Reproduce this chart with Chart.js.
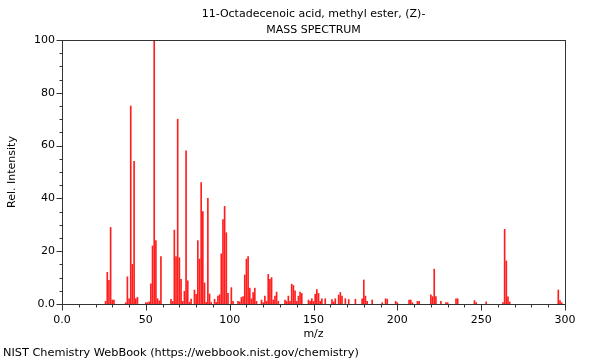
<!DOCTYPE html>
<html>
<head>
<meta charset="utf-8">
<script src="https://cdn.jsdelivr.net/npm/chart.js@4.4.1/dist/chart.umd.min.js"></script>
<style>
  html, body { margin: 0; padding: 0; background: #fff; }
  #wrap { width: 600px; height: 360px; position: relative; }
</style>
</head>
<body>
<div id="wrap"><canvas id="spectrum"></canvas></div>
<script>
// datos del espectro (m/z, intensidad relativa)
const mzValues = [
  26, 27, 28, 29, 30, 31, 38, 39, 40, 41, 42, 43, 44, 45,
  50, 51, 52, 53, 54, 55, 56, 57, 58, 59,
  65, 66, 67, 68, 69, 70, 71, 72, 73, 74, 75, 76, 77, 79,
  80, 81, 82, 83, 84, 85, 86, 87, 88, 89, 91, 92, 93, 94, 95, 96, 97, 98, 99,
  101, 102, 105, 106, 107, 108, 109, 110, 111, 112, 113, 114, 115, 116, 119,
  120, 121, 122, 123, 124, 125, 126, 127, 128, 129, 133, 134, 135, 136, 137, 138, 139,
  140, 141, 142, 143, 147, 148, 149, 150, 151, 152, 153, 154, 155, 157,
  161, 162, 163, 165, 166, 167, 169, 171, 175, 179, 180, 181, 182, 185,
  191, 193, 194, 199, 200, 207, 208, 209, 212, 213,
  220, 221, 222, 223, 226, 229, 230, 235, 236, 246, 247, 253,
  263, 264, 265, 266, 267, 296, 297, 298
];
const intensities = [
  1, 12, 9, 29, 1.5, 1.5, 0.5, 10.3, 2, 75, 15, 54, 2, 2.5,
  0.5, 0.5, 0.8, 7.6, 22, 100, 24, 2, 1.2, 18,
  1.8, 1, 28, 18, 70, 17.5, 9.3, 1, 4.8, 58, 8.8, 0.7, 1.9, 5.3,
  3.7, 24, 17, 46, 35, 8, 0.6, 40, 3.8, 0.6, 1.8, 0.6, 3, 3.5, 19, 32, 37, 27, 4,
  6.2, 1, 1, 0.8, 2.5, 2.8, 11, 17, 18, 6, 2, 4.3, 6, 1, 1.5,
  0.5, 3, 1, 11.2, 9.3, 10, 1.5, 3, 4.5, 1, 1.5, 1, 3, 1, 7.5, 7, 5,
  1, 3, 4.5, 4, 1.5, 1, 2, 1, 3.7, 5.5, 4, 1, 2, 2,
  1.7, 0.8, 2, 3.4, 4.4, 3, 2, 1.7, 1.8, 2, 9.1, 3, 1, 1.5,
  0.5, 2, 1.8, 1, 0.5, 1.5, 1.5, 0.5, 1, 1,
  3.5, 2.8, 13.2, 2.8, 1, 0.5, 0.5, 2, 2, 1.3, 0.5, 0.8,
  0.5, 28.3, 16.3, 2.7, 0.8, 5.3, 1.3, 0.5
];
const xTickLabels = [0, 50, 100, 150, 200, 250, 300];
const yTickLabels = [0, 20, 40, 60, 80, 100];

const chartTitle = ["11-Octadecenoic acid, methyl ester, (Z)-", "MASS SPECTRUM"];
const xTitle = "m/z";
const yTitle = "Rel. Intensity";
const footer = "NIST Chemistry WebBook (https://webbook.nist.gov/chemistry)";

Chart.defaults.font.family = "'DejaVu Sans', sans-serif";
Chart.defaults.font.size = 11;
Chart.defaults.color = "#000";

const fmt = (v) => (v === 0 ? "0.0" : String(v));

// marco, marcas menores y textos
const decor = {
  id: "decor",
  afterDraw(chart) {
    const { ctx, chartArea: a, scales } = chart;
    const x = scales.x, y = scales.y;
    ctx.save();
    ctx.strokeStyle = "#333";
    ctx.lineWidth = 1;
    ctx.strokeRect(Math.round(a.left) + 0.5, Math.round(a.top) + 0.5,
      Math.round(a.right - a.left), Math.round(a.bottom - a.top));

    ctx.beginPath();
    for (let v = 0; v <= 300; v += 10) {
      const px = Math.round(x.getPixelForValue(v)) + 0.5;
      const len = xTickLabels.includes(v) ? 6 : 3;
      ctx.moveTo(px, Math.round(a.bottom) + 0.5);
      ctx.lineTo(px, Math.round(a.bottom) + 0.5 + len);
    }
    for (let v = 0; v <= 100; v += 5) {
      const py = Math.round(y.getPixelForValue(v)) + 0.5;
      const len = yTickLabels.includes(v) ? 6 : 3;
      ctx.moveTo(Math.round(a.left) + 0.5, py);
      ctx.lineTo(Math.round(a.left) + 0.5 - len, py);
    }
    ctx.stroke();

    ctx.fillStyle = "#000";
    ctx.font = "11px 'DejaVu Sans'";
    ctx.textAlign = "center";
    ctx.textBaseline = "middle";
    const cx = (a.left + a.right) / 2;
    ctx.fillText(chartTitle[0], cx, 14);
    ctx.fillText(chartTitle[1], cx, 30);
    ctx.fillText(xTitle, cx, 334);

    ctx.save();
    ctx.translate(12, (a.top + a.bottom) / 2);
    ctx.rotate(-Math.PI / 2);
    ctx.fillText(yTitle, 0, 0);
    ctx.restore();

    ctx.textAlign = "left";
    ctx.font = "11.3px 'DejaVu Sans'";
    ctx.fillText(footer, 3, 353);
    ctx.restore();
  }
};

const ctx = document.getElementById("spectrum");
const spectrum = new Chart(ctx, {
  type: "bar",
  data: {
    datasets: [{
      data: mzValues.map((m, i) => ({ x: m, y: intensities[i] })),
      backgroundColor: "rgb(255,30,30)",
      borderWidth: 0,
      barThickness: 1,
    }],
  },
  options: {
    responsive: true,
    maintainAspectRatio: false,
    animation: false,
    events: [],
    layout: { padding: { left: 0, right: 35, top: 40, bottom: 0 } },
    plugins: { legend: { display: false }, tooltip: { enabled: false } },
    scales: {
      x: {
        type: "linear",
        min: 0,
        max: 300,
        offset: false,
        grid: { display: false, drawTicks: false, tickLength: 0 },
        border: { display: false },
        afterFit: (s) => { s.height = 56; },
        afterBuildTicks: (s) => { s.ticks = xTickLabels.map((v) => ({ value: v })); },
        ticks: { padding: 10, maxRotation: 0, autoSkip: false, callback: fmt },
      },
      y: {
        min: 0,
        max: 100,
        grid: { display: false, drawTicks: false, tickLength: 0 },
        border: { display: false },
        afterFit: (s) => { s.width = 62; },
        afterBuildTicks: (s) => { s.ticks = yTickLabels.map((v) => ({ value: v })); },
        ticks: { padding: 7, autoSkip: false, callback: fmt },
      },
    },
  },
  plugins: [decor],
});
</script>
</body>
</html>
